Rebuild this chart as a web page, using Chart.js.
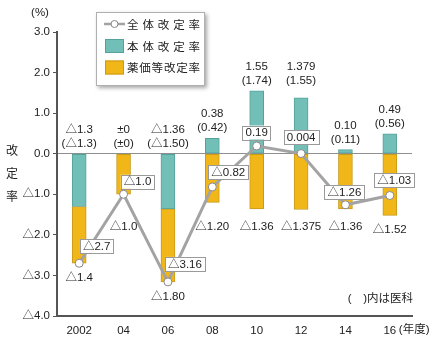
<!DOCTYPE html>
<html>
<head>
<meta charset="utf-8">
<script src="https://cdn.jsdelivr.net/npm/chart.js@4/dist/chart.umd.min.js"></script>
<style>
html,body{margin:0;padding:0;background:#fff;}
#wrap{width:443px;height:339px;}
</style>
</head>
<body>
<div id="wrap"><canvas id="c" width="443" height="339"></canvas></div>
<script>
// ---- data ----
const years = ['2002', '04', '06', '08', '10', '12', '14', '16'];
const honkai = [-1.3, 0, -1.36, 0.38, 1.55, 1.379, 0.10, 0.49];      // 本体改定率
const honkaiDigits = [1, 0, 2, 2, 2, 3, 2, 2];
const ika = [-1.3, 0, -1.50, 0.42, 1.74, 1.55, 0.11, 0.56];           // ( )内は医科
const ikaDigits = [1, 0, 2, 2, 2, 2, 2, 2];
const yakka = [-1.4, -1.0, -1.80, -1.20, -1.36, -1.375, -1.36, -1.52]; // 薬価等改定率
const yakkaDigits = [1, 1, 2, 2, 2, 3, 2, 2];
const zentai = [-2.7, -1.0, -3.16, -0.82, 0.19, 0.004, -1.26, -1.03]; // 全体改定率
const zentaiDigits = [1, 1, 2, 2, 2, 3, 2, 2];
const yTickValues = [3, 2, 1, 0, -1, -2, -3, -4];
const seriesNames = ['全体改定率', '本体改定率', '薬価等改定率'];

// ---- helpers ----
const TEAL = '#72bfb7', TEAL_B = '#55a29a';
const ORANGE = '#f1b719', ORANGE_B = '#c99a1a';
const LINE = '#a3a3a3';
const FONT = '"Liberation Sans", "Noto Sans CJK JP", sans-serif';
const JFONT = '"Noto Sans CJK JP", sans-serif';
function fmt(v, d) {
  if (v === 0) return '±0';
  return (v < 0 ? '△' : '') + Math.abs(v).toFixed(d);
}
function fmtTick(v) {
  if (v === 0) return '0.0';
  return (v < 0 ? '△' : '') + Math.abs(v).toFixed(1);
}
// annotation box offsets from each total point (layout only)
const boxOffset = [[17.5, -17], [14, -12.5], [17, -18], [16, -15], [0, -13.5], [0, -16.5], [-1, -12.5], [4.5, -15.5]];
const topLabelShift = [0, 0, 0, 0, 0, -7, 0, 0];

const labelPlugin = {
  id: 'labels',
  afterDatasetsDraw(chart) {
    const ctx = chart.ctx;
    const xs = chart.scales.x, ys = chart.scales.y;
    ctx.save();
    ctx.font = '11.5px ' + FONT;
    ctx.fillStyle = '#222';
    ctx.textAlign = 'center';
    ctx.textBaseline = 'middle';
    for (let i = 0; i < years.length; i++) {
      const cx = xs.getPixelForValue(i);
      // top labels (本体 / 医科)
      const topPx = ys.getPixelForValue(Math.max(honkai[i], 0));
      const y2 = topPx - 10 + topLabelShift[i];
      ctx.fillText(fmt(honkai[i], honkaiDigits[i]), cx, y2 - 14);
      ctx.fillText('(' + fmt(ika[i], ikaDigits[i]) + ')', cx, y2);
      // bottom labels (薬価等)
      const bottomVal = Math.min(honkai[i], 0) + yakka[i];
      const by = Math.max(ys.getPixelForValue(-1.8), ys.getPixelForValue(bottomVal) + 14.5);
      ctx.fillText(fmt(yakka[i], yakkaDigits[i]), cx, by);
    }
    // total boxes
    for (let i = 0; i < years.length; i++) {
      const px = xs.getPixelForValue(i) + boxOffset[i][0];
      const py = ys.getPixelForValue(zentai[i]) + boxOffset[i][1];
      const t = fmt(zentai[i], zentaiDigits[i]);
      const w = ctx.measureText(t).width + 6;
      const h = 14;
      ctx.fillStyle = '#fff';
      ctx.fillRect(px - w / 2, py - h / 2, w, h);
      ctx.strokeStyle = '#9a9a9a';
      ctx.lineWidth = 1;
      ctx.strokeRect(Math.round(px - w / 2) + 0.5, Math.round(py - h / 2) + 0.5, Math.round(w), h);
      ctx.fillStyle = '#222';
      ctx.fillText(t, px, py + 0.5);
    }
    ctx.restore();
  },
  afterDraw(chart) {
    const ctx = chart.ctx;
    const xs = chart.scales.x;
    ctx.save();
    ctx.fillStyle = '#222';
    ctx.textBaseline = 'middle';
    // (%)
    ctx.font = '11.5px ' + FONT;
    ctx.textAlign = 'center';
    ctx.fillText('(%)', 40, 13);
    // vertical axis title
    ctx.font = '12px ' + JFONT;
    const yt = '改定率';
    [150, 173, 196].forEach((y, k) => ctx.fillText(yt[k], 12, y));
    // (年度)
    ctx.textAlign = 'left';
    ctx.font = '11.5px ' + FONT;
    ctx.fillText('(年度)', xs.getPixelForValue(years.length - 1) + 9, 330);
    // ( )内は医科
    ctx.textAlign = 'right';
    ctx.fillText('(　)内は医科', 413, 299);
    // legend
    ctx.save();
    ctx.shadowColor = 'rgba(0,0,0,0.35)';
    ctx.shadowBlur = 4;
    ctx.shadowOffsetX = 2;
    ctx.shadowOffsetY = 2;
    ctx.fillStyle = '#fff';
    ctx.fillRect(96, 12, 109, 74);
    ctx.restore();
    ctx.strokeStyle = '#b0b0b0';
    ctx.lineWidth = 1;
    ctx.strokeRect(96.5, 12.5, 108, 73);
    const rows = [24, 46, 67.5];
    // line icon
    ctx.strokeStyle = LINE;
    ctx.lineWidth = 2.5;
    ctx.beginPath(); ctx.moveTo(104, rows[0]); ctx.lineTo(125, rows[0]); ctx.stroke();
    ctx.beginPath(); ctx.arc(114.5, rows[0], 3.5, 0, Math.PI * 2);
    ctx.fillStyle = '#fff'; ctx.fill();
    ctx.strokeStyle = '#888'; ctx.lineWidth = 1; ctx.stroke();
    // squares
    ctx.fillStyle = TEAL; ctx.fillRect(105, rows[1] - 7, 19, 14);
    ctx.strokeStyle = TEAL_B; ctx.strokeRect(105.5, rows[1] - 6.5, 18, 13);
    ctx.fillStyle = ORANGE; ctx.fillRect(105, rows[2] - 7, 19, 14);
    ctx.strokeStyle = ORANGE_B; ctx.strokeRect(105.5, rows[2] - 6.5, 18, 13);
    // legend texts, spread across
    ctx.font = '11.5px ' + JFONT;
    ctx.fillStyle = '#222';
    ctx.textAlign = 'left';
    seriesNames.forEach((name, r) => {
      const chars = Array.from(name);
      const start = 127, end = 200;
      const lastW = ctx.measureText(chars[chars.length - 1]).width;
      const step = (end - start - lastW) / (chars.length - 1);
      chars.forEach((ch, k) => ctx.fillText(ch, start + k * step, rows[r] + 0.5));
    });
    ctx.restore();
  }
};

new Chart(document.getElementById('c'), {
  type: 'bar',
  data: {
    labels: years,
    datasets: [
      {
        type: 'line', label: seriesNames[0], data: zentai, stack: 'total', order: 0,
        borderColor: LINE, borderWidth: 3, pointRadius: 4, pointBackgroundColor: '#fff',
        pointBorderColor: '#888', pointBorderWidth: 1, tension: 0, fill: false
      },
      {
        label: seriesNames[1], data: honkai, stack: 'bars', order: 1,
        backgroundColor: TEAL, borderColor: TEAL_B, borderWidth: 1, borderSkipped: false, barThickness: 14
      },
      {
        label: seriesNames[2], data: yakka, stack: 'bars', order: 1,
        backgroundColor: ORANGE, borderColor: ORANGE_B, borderWidth: 1, borderSkipped: false, barThickness: 14
      }
    ]
  },
  options: {
    responsive: false,
    devicePixelRatio: 1,
    animation: false,
    layout: { padding: { top: 32, right: 31, bottom: 0, left: 0 } },
    plugins: { legend: { display: false }, tooltip: { enabled: false } },
    scales: {
      x: {
        stacked: true,
        grid: { display: false, drawTicks: false },
        border: { display: true, color: '#555', width: 2 },
        ticks: { color: '#222', font: { family: FONT, size: 11.5 }, padding: 8 },
        afterFit(s) { s.height = 23; }
      },
      y: {
        stacked: true,
        min: -4, max: 3,
        afterBuildTicks(s) { s.ticks = yTickValues.map(v => ({ value: v })); },
        grid: {
          drawOnChartArea: true,
          color: c => (c.tick && c.tick.value === 0) ? '#8f8f8f' : 'rgba(0,0,0,0)',
          tickColor: '#555', tickLength: 4, lineWidth: 1
        },
        border: { display: true, color: '#555', width: 2 },
        ticks: { color: '#222', font: { family: FONT, size: 11.5 }, padding: 3, callback: v => fmtTick(v) },
        afterFit(s) { s.width = 57; }
      }
    }
  },
  plugins: [labelPlugin]
});
</script>
</body>
</html>
